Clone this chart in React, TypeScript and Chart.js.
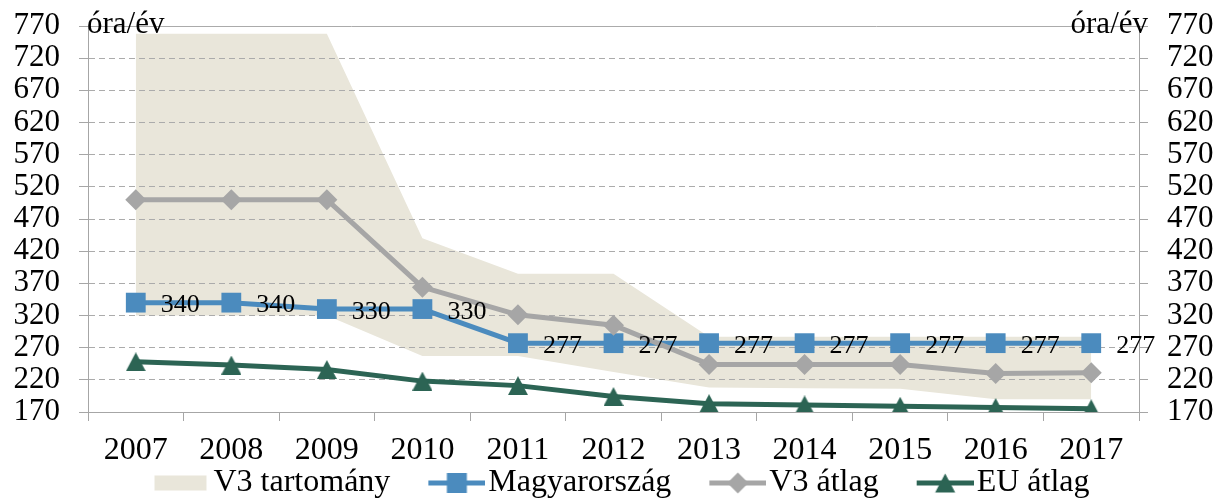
import React, { useEffect, useRef } from 'react';
import { Chart, registerables } from 'chart.js';

Chart.register(...registerables);

// ---- data ----
const years = ['2007', '2008', '2009', '2010', '2011', '2012', '2013', '2014', '2015', '2016', '2017'];
const hungary = [340, 340, 330, 330, 277, 277, 277, 277, 277, 277, 277];
const v3Average = [500, 500, 500, 364, 321, 305, 244, 244, 244, 230, 231];
const euAverage = [248, 243, 236, 218, 211, 194, 183, 181, 179, 177, 175];
const v3RangeMax = [758, 758, 758, 440, 385, 385, 287, 287, 287, 287, 287];
const v3RangeMin = [320, 320, 320, 257, 257, 232, 208, 207, 206, 190, 190];
const seriesNames = ['V3 tartomány', 'Magyarország', 'V3 átlag', 'EU átlag'];
const yMin = 170;
const yMax = 770;
const yStep = 50;
const unitLabel = 'óra/év';

// ---- styles ----
const FONT = '"Liberation Serif", "Times New Roman", serif';
const BLUE = '#4B8BBE';
const GRAY = '#A6A6A6';
const GREEN = '#2C6454';
const CREAM = '#E9E6DA';
const GRID = '#ABABAB';
const AXIS = '#A6A6A6';
const CANVAS_W = 1222;
const CANVAS_H = 509;

function makeCanvas(w: number, h: number, draw: (ctx: CanvasRenderingContext2D) => void) {
  const c = document.createElement('canvas');
  c.width = w;
  c.height = h;
  const ctx = c.getContext('2d') as CanvasRenderingContext2D;
  draw(ctx);
  return c;
}

function triangle(ctx: CanvasRenderingContext2D, cx: number, cy: number, w: number, h: number, color: string) {
  ctx.fillStyle = color;
  ctx.beginPath();
  ctx.moveTo(cx, cy - h / 2);
  ctx.lineTo(cx + w / 2, cy + h / 2);
  ctx.lineTo(cx - w / 2, cy + h / 2);
  ctx.closePath();
  ctx.fill();
}

export default function App() {
  const ref = useRef<HTMLCanvasElement | null>(null);

  useEffect(() => {
    const canvas = ref.current;
    if (!canvas) return;

    const triMarker = makeCanvas(20, 19, (ctx) => triangle(ctx, 10, 9.5, 20, 19, GREEN));

    // legend icons: 105 px wide image, icon placed at its right part
    const ICON_W = 105;
    const ICON_H = 22;
    const legendBox = makeCanvas(ICON_W, ICON_H, (ctx) => {
      ctx.fillStyle = CREAM;
      ctx.fillRect(49, 3.5, 52, 15);
    });
    const lineIcon = (color: string, marker: (ctx: CanvasRenderingContext2D, cx: number) => void) =>
      makeCanvas(ICON_W, ICON_H, (ctx) => {
        ctx.fillStyle = color;
        ctx.fillRect(48, 8.5, 57, 5);
        marker(ctx, 76.5);
      });
    const legendHu = lineIcon(BLUE, (ctx, cx) => {
      ctx.fillStyle = BLUE;
      ctx.fillRect(cx - 10, 1, 20, 20);
    });
    const legendV3 = lineIcon(GRAY, (ctx, cx) => {
      ctx.fillStyle = GRAY;
      ctx.beginPath();
      ctx.moveTo(cx, 0.5);
      ctx.lineTo(cx + 10.5, 11);
      ctx.lineTo(cx, 21.5);
      ctx.lineTo(cx - 10.5, 11);
      ctx.closePath();
      ctx.fill();
    });
    const legendEu = lineIcon(GREEN, (ctx, cx) => triangle(ctx, cx, 11, 20, 19, GREEN));
    const legendIcons = [legendBox, legendHu, legendV3, legendEu];
    const legendDatasetIdx = [0, 2, 3, 4];

    const dataLabelPlugin = {
      id: 'huLabels',
      afterDatasetsDraw(chart: any) {
        const meta = chart.getDatasetMeta(2);
        const ctx = chart.ctx;
        ctx.save();
        ctx.font = `26px ${FONT}`;
        ctx.fillStyle = '#000';
        ctx.textAlign = 'left';
        ctx.textBaseline = 'middle';
        meta.data.forEach((el: any, i: number) => {
          ctx.fillText(String(hungary[i]), el.x + 25, el.y + 3);
        });
        ctx.restore();
      },
    };

    const unitPlugin = {
      id: 'unitLabels',
      afterLayout(chart: any) {
        if (chart.legend) chart.legend.left -= 14;
      },
      afterDraw(chart: any) {
        const { ctx, chartArea } = chart;
        ctx.save();
        ctx.font = `31px ${FONT}`;
        ctx.fillStyle = '#000';
        ctx.textBaseline = 'alphabetic';
        ctx.textAlign = 'left';
        ctx.fillText(unitLabel, chartArea.left - 1, 33);
        ctx.textAlign = 'right';
        ctx.fillText(unitLabel, chartArea.right + 9, 33);
        ctx.restore();
      },
    };

    const gridDash = (c: any) =>
      c.tick && (c.tick.value === yMin || c.tick.value === yMax) ? [] : [6, 4];

    const yTicks = {
      stepSize: yStep,
      font: { family: FONT, size: 31, lineHeight: 0.4 },
      color: '#000',
      padding: 19,
      autoSkip: false,
    };

    const chart = new Chart(canvas, {
      type: 'line',
      data: {
        labels: years,
        datasets: [
          {
            label: seriesNames[0],
            data: v3RangeMax,
            fill: '+1',
            backgroundColor: CREAM,
            borderColor: 'rgba(0,0,0,0)',
            borderWidth: 1,
            pointRadius: 0,
            order: 5,
          },
          {
            label: 'V3 min',
            data: v3RangeMin,
            fill: false,
            borderColor: 'rgba(0,0,0,0)',
            borderWidth: 1,
            pointRadius: 0,
            order: 6,
          },
          {
            label: seriesNames[1],
            data: hungary,
            borderColor: BLUE,
            borderWidth: 5,
            borderJoinStyle: 'round',
            pointStyle: 'rect',
            pointRadius: 14,
            pointBackgroundColor: BLUE,
            pointBorderWidth: 0,
            fill: false,
            order: 3,
          },
          {
            label: seriesNames[2],
            data: v3Average,
            borderColor: GRAY,
            borderWidth: 5,
            borderJoinStyle: 'round',
            pointStyle: 'rectRot',
            pointRadius: 10.5,
            pointBackgroundColor: GRAY,
            pointBorderWidth: 0,
            fill: false,
            order: 2,
          },
          {
            label: seriesNames[3],
            data: euAverage,
            borderColor: GREEN,
            borderWidth: 5,
            borderJoinStyle: 'round',
            pointStyle: triMarker,
            pointRadius: 10,
            pointBackgroundColor: GREEN,
            pointBorderWidth: 0,
            fill: false,
            order: 1,
          },
        ],
      } as any,
      options: {
        animation: false,
        responsive: false,
        events: [],
        layout: { padding: { left: 0, top: 26, right: 0, bottom: 0 } },
        plugins: {
          filler: { drawTime: 'beforeDraw', propagate: false },
          tooltip: { enabled: false },
          title: { display: false },
          legend: {
            display: true,
            position: 'bottom',
            align: 'center',
            labels: {
              usePointStyle: true,
              pointStyleWidth: 79,
              padding: 3,
              color: '#000',
              font: { family: FONT, size: 32 },
              generateLabels: () =>
                seriesNames.map((name, i) => ({
                  text: name,
                  pointStyle: legendIcons[i],
                  fillStyle: 'rgba(0,0,0,0)',
                  strokeStyle: 'rgba(0,0,0,0)',
                  lineWidth: 1,
                  hidden: false,
                  datasetIndex: legendDatasetIdx[i],
                  fontColor: '#000',
                })),
            },
          },
        },
        scales: {
          x: {
            type: 'category',
            offset: true,
            grid: {
              offset: true,
              drawOnChartArea: false,
              drawTicks: true,
              tickLength: 9,
              tickColor: AXIS,
              tickWidth: 1,
            },
            border: { display: true, color: AXIS, width: 1 },
            ticks: {
              font: { family: FONT, size: 32 },
              color: '#000',
              padding: 10,
              maxRotation: 0,
              autoSkip: false,
            },
            afterFit: (s: any) => {
              s.height = 52;
            },
          },
          y: {
            position: 'left',
            min: yMin,
            max: yMax,
            ticks: yTicks,
            grid: {
              color: GRID,
              lineWidth: 1,
              drawTicks: true,
              tickLength: 9,
              tickColor: AXIS,
              tickBorderDash: [],
            },
            border: { display: true, color: AXIS, width: 1, dash: gridDash },
            afterFit: (s: any) => {
              s.width = 88;
            },
          },
          y2: {
            position: 'right',
            min: yMin,
            max: yMax,
            ticks: yTicks,
            grid: {
              drawOnChartArea: false,
              drawTicks: true,
              tickLength: 9,
              tickColor: AXIS,
            },
            border: { display: true, color: AXIS, width: 1 },
            afterFit: (s: any) => {
              s.width = 83;
            },
          },
        },
      } as any,
      plugins: [dataLabelPlugin, unitPlugin],
    });

    return () => {
      chart.destroy();
    };
  }, []);

  return (
    <div style={{ position: 'fixed', left: 0, top: 0, width: CANVAS_W, height: CANVAS_H, background: '#fff' }}>
      <canvas
        ref={ref}
        width={CANVAS_W}
        height={CANVAS_H}
        style={{ display: 'block', width: CANVAS_W, height: CANVAS_H }}
      />
    </div>
  );
}
